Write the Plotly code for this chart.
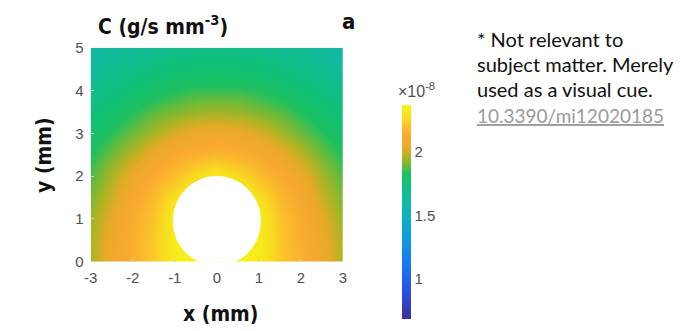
import plotly.graph_objects as go

# ---- data ----
x_vals = [-3.0, -2.5, -2.0, -1.5, -1.0, -0.5, 0.0, 0.5, 1.0, 1.5, 2.0, 2.5, 3.0]
y_vals = [0.0, 0.5, 1.0, 1.5, 2.0, 2.5, 3.0, 3.5, 4.0, 4.5, 5.0]

# concentration (x 1e-8), rows follow y_vals, columns follow x_vals
c_y00 = [1.96, 2.07, 2.15, 2.22, 2.33, 2.36, 2.37, 2.36, 2.33, 2.22, 2.15, 2.07, 1.96]
c_y05 = [1.96, 2.06, 2.14, 2.22, 2.34, 2.37, 2.37, 2.37, 2.34, 2.22, 2.14, 2.06, 1.96]
c_y10 = [1.94, 2.04, 2.13, 2.21, 2.34, 2.37, 2.37, 2.37, 2.34, 2.21, 2.13, 2.04, 1.94]
c_y15 = [1.91, 2.00, 2.10, 2.18, 2.29, 2.37, 2.37, 2.37, 2.29, 2.18, 2.10, 2.00, 1.91]
c_y20 = [1.87, 1.96, 2.06, 2.13, 2.19, 2.27, 2.32, 2.27, 2.19, 2.13, 2.06, 1.96, 1.87]
c_y25 = [1.83, 1.90, 1.98, 2.06, 2.12, 2.15, 2.17, 2.15, 2.12, 2.06, 1.98, 1.90, 1.83]
c_y30 = [1.78, 1.84, 1.90, 1.96, 2.02, 2.06, 2.08, 2.06, 2.02, 1.96, 1.90, 1.84, 1.78]
c_y35 = [1.73, 1.78, 1.83, 1.88, 1.91, 1.94, 1.95, 1.94, 1.91, 1.88, 1.83, 1.78, 1.73]
c_y40 = [1.69, 1.72, 1.76, 1.80, 1.83, 1.85, 1.85, 1.85, 1.83, 1.80, 1.76, 1.72, 1.69]
c_y45 = [1.65, 1.67, 1.70, 1.73, 1.75, 1.76, 1.77, 1.76, 1.75, 1.73, 1.70, 1.67, 1.65]
c_y50 = [1.61, 1.63, 1.65, 1.67, 1.69, 1.70, 1.70, 1.70, 1.69, 1.67, 1.65, 1.63, 1.61]

z_rows = [c_y00, c_y05, c_y10, c_y15, c_y20, c_y25, c_y30, c_y35, c_y40, c_y45, c_y50]

# hole (source particle) in the domain
hole_center = [0.0, 0.95]
hole_radius = 1.05

c_min, c_max = 0.685, 2.37
cbar_ticks = [1, 1.5, 2]
cbar_ticktext = ["1", "1.5", "2"]
x_ticks = [-3, -2, -1, 0, 1, 2, 3]
x_ticktext = ["-3", "-2", "-1", "0", "1", "2", "3"]
y_ticks = [0, 1, 2, 3, 4, 5]
y_ticktext = ["0", "1", "2", "3", "4", "5"]

colorscale = [
    [0.00, "#3d2b9e"], [0.12, "#2a4fe0"], [0.25, "#1878f0"], [0.38, "#0f9ce0"],
    [0.48, "#10b0bc"], [0.56, "#12baa0"], [0.63, "#10c078"], [0.68, "#20c060"],
    [0.72, "#70ba38"], [0.76, "#b0b424"], [0.80, "#e8aa28"], [0.85, "#f8a830"],
    [0.89, "#fbbc2c"], [0.94, "#f8dc20"], [1.00, "#f6f418"],
]

# page body has an 8px margin, so the figure is placed at (8, 8)
OFF = 8
W, H = 682 - OFF, 331 - OFF
def px(xp):
    return (xp - OFF) / W
def py(yp):
    return 1 - (yp - OFF) / H

tick_font = dict(family="Liberation Sans, Arial, sans-serif", size=15, color="#505050")
cond_font = dict(family="DejaVu Sans Condensed, Liberation Sans Narrow, sans-serif", size=21,
                 color="#111111", weight="bold")

fig = go.Figure()
fig.add_trace(go.Heatmap(
    x=x_vals, y=y_vals, z=z_rows,
    zsmooth="best", colorscale=colorscale, zmin=c_min, zmax=c_max,
    colorbar=dict(
        x=px(402), xanchor="left", y=py(105), yanchor="top",
        len=214 / H, lenmode="fraction", thickness=9, thicknessmode="pixels",
        outlinewidth=0, tickvals=cbar_ticks, ticktext=cbar_ticktext,
        ticks="", tickfont=tick_font, xpad=0, ypad=0,
    ),
    hoverinfo="skip",
))

fig.add_shape(type="circle", xref="x", yref="y",
              x0=hole_center[0] - hole_radius, x1=hole_center[0] + hole_radius,
              y0=hole_center[1] - hole_radius, y1=hole_center[1] + hole_radius,
              fillcolor="white", line=dict(width=0), layer="above")

fig.update_layout(
    width=W, height=H, margin=dict(l=0, r=0, t=0, b=0, autoexpand=False),
    paper_bgcolor="white", plot_bgcolor="white", showlegend=False,
    xaxis=dict(domain=[px(90.7), px(343)], range=[-3, 3], tickvals=x_ticks, ticktext=x_ticktext,
               ticks="inside", ticklen=3, tickcolor="#cccccc", showgrid=False,
               zeroline=False, showline=False, tickfont=tick_font,
               ticklabelstandoff=5, automargin=False),
    yaxis=dict(domain=[py(261.7), py(47.7)], range=[0, 5], tickvals=y_ticks, ticktext=y_ticktext,
               ticks="inside", ticklen=3, tickcolor="#cccccc", showgrid=False,
               zeroline=False, showline=False, tickfont=tick_font,
               ticklabelstandoff=6, automargin=False),
)

ann = []
ann.append(dict(text="C (g/s mm<sup>-3</sup>)", x=px(96), y=py(25), xanchor="left", yanchor="middle",
                font=cond_font))
ann.append(dict(text="a", x=px(348), y=py(21), xanchor="center", yanchor="middle",
                font=dict(family="DejaVu Sans Condensed, sans-serif", size=22, color="#111111",
                          weight="bold")))
ann.append(dict(text="x (mm)", x=px(220), y=py(314), xanchor="center", yanchor="middle", font=cond_font))
ann.append(dict(text="y (mm)", x=px(44), y=py(155), xanchor="center", yanchor="middle", textangle=-90,
                font=cond_font))
ann.append(dict(text="×10<sup>-8</sup>", x=px(396), y=py(90), xanchor="left", yanchor="middle",
                font=dict(family="Liberation Sans, Arial, sans-serif", size=16, color="#505050")))

note_lines = ["* Not relevant to", "subject matter. Merely", "used as a visual cue."]
note_y = [39, 64, 89]
note_font = dict(family="Lato, Open Sans, sans-serif", size=20, color="#111111")
for t, yy in zip(note_lines, note_y):
    ann.append(dict(text=t, x=px(475), y=py(yy), xanchor="left", yanchor="middle", font=note_font))
ann.append(dict(text="<u>10.3390/mi12020185</u>", x=px(475), y=py(115), xanchor="left", yanchor="middle",
                font=dict(family="Lato, Open Sans, sans-serif", size=19, color="#9a9a9a")))

for a in ann:
    a.update(xref="paper", yref="paper", showarrow=False)
fig.update_layout(annotations=ann)

fig.write_html("out.html")
